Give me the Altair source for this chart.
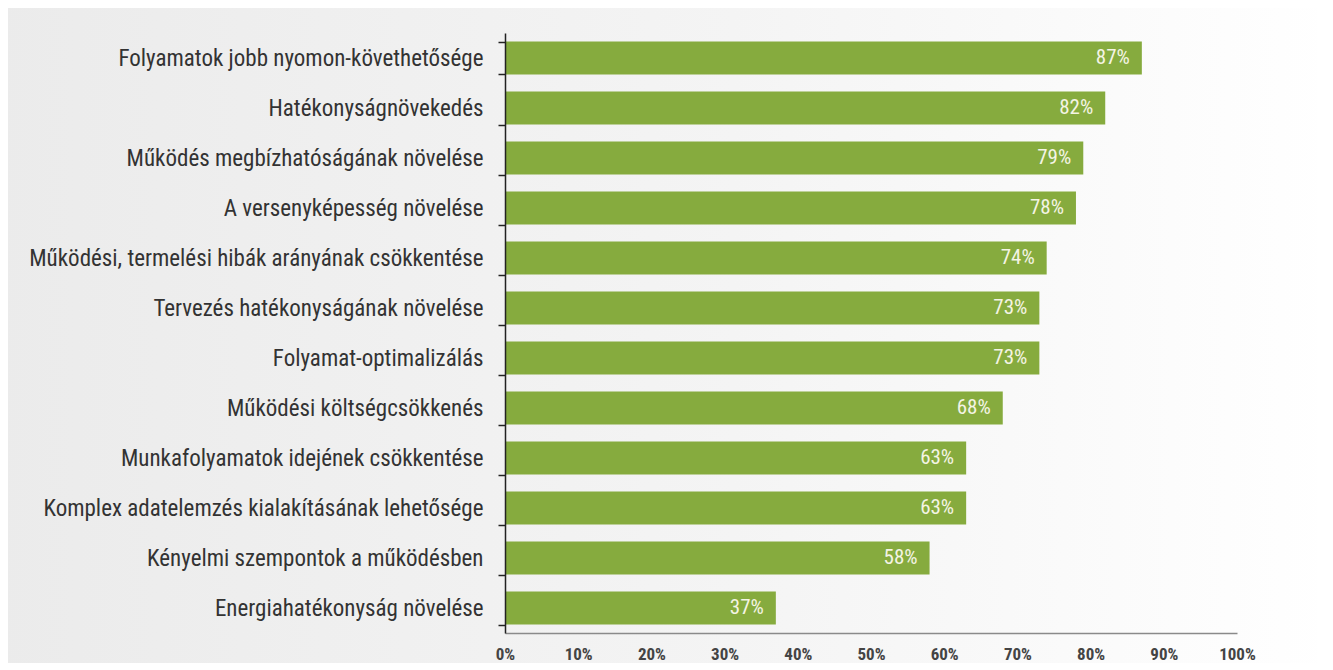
import altair as alt
import pandas as pd

categories = [
    "Folyamatok jobb nyomon-követhetősége",
    "Hatékonyságnövekedés",
    "Működés megbízhatóságának növelése",
    "A versenyképesség növelése",
    "Működési, termelési hibák arányának csökkentése",
    "Tervezés hatékonyságának növelése",
    "Folyamat-optimalizálás",
    "Működési költségcsökkenés",
    "Munkafolyamatok idejének csökkentése",
    "Komplex adatelemzés kialakításának lehetősége",
    "Kényelmi szempontok a működésben",
    "Energiahatékonyság növelése",
]
values = [87, 82, 79, 78, 74, 73, 73, 68, 63, 63, 58, 37]
x_ticks = [0, 10, 20, 30, 40, 50, 60, 70, 80, 90, 100]

df = pd.DataFrame({"cat": categories, "val": values})
df["label"] = df["val"].astype(str) + "%"

W, H = 732, 600
FONT = "Roboto Condensed, Liberation Sans Narrow, DejaVu Sans Condensed, Roboto, sans-serif"

bg = alt.Chart(pd.DataFrame({"a": [0]})).mark_rect(
    color=alt.Gradient(
        gradient="linear", x1=0, x2=1, y1=0, y2=0,
        stops=[alt.GradientStop(offset=0, color="#ebebeb"),
               alt.GradientStop(offset=0.55, color="#f4f4f4"),
               alt.GradientStop(offset=1, color="#ffffff")],
    )
).encode(x=alt.value(-510), x2=alt.value(W + 100), y=alt.value(-30), y2=alt.value(H + 40))

yenc = alt.Y(
    "cat:N", sort=categories,
    scale=alt.Scale(paddingInner=0.34, paddingOuter=0.17),
    axis=alt.Axis(
        title=None, tickBand="extent", tickSize=7, tickColor="#222", tickWidth=1.5,
        domainColor="#222", domainWidth=1.5, labelFont=FONT, labelFontSize=23,
        labelColor="#333", labelPadding=15, labelLimit=600, zindex=1,
    ),
)
xenc = alt.X(
    "val:Q", scale=alt.Scale(domain=[0, 100], nice=False),
    axis=alt.Axis(
        title=None, values=x_ticks, labelExpr="datum.value + '%'", ticks=False,
        grid=False, domainColor="#8a8a8a", domainWidth=1.5, labelFont=FONT,
        labelFontSize=17, labelFontWeight="bold", labelColor="#444", labelPadding=13,
        labelFlush=False, zindex=1,
    ),
)

bars = alt.Chart(df).mark_bar(color="#86ab3e").encode(x=xenc, y=yenc)
text = alt.Chart(df).mark_text(
    align="right", baseline="middle", dx=-12, color="#f4f4e4", fontSize=21, font=FONT
).encode(x=alt.X("val:Q"), y=alt.Y("cat:N", sort=categories), text="label:N")

chart = alt.layer(bg, bars, text).properties(
    width=W, height=H,
    autosize=alt.AutoSizeParams(type="none"),
    padding={"left": 497, "top": 25, "right": 80, "bottom": 30},
    background="#ffffff",
).configure_view(stroke=None)

chart.save("out.html", embed_options={"renderer": "svg", "actions": False})
